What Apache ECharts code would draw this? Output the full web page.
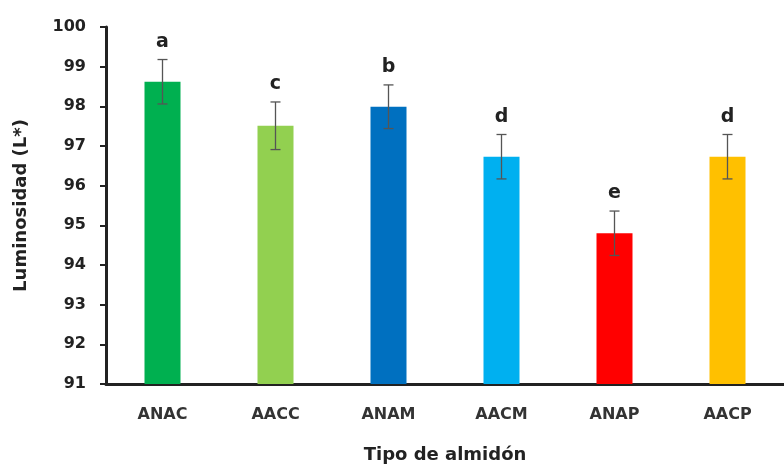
<!DOCTYPE html>
<html><head><meta charset="utf-8">
<script src="https://cdn.jsdelivr.net/npm/echarts@6/dist/echarts.min.js"></script>
<style>html,body{margin:0;padding:0;background:#fff}#c{width:784px;height:469px}</style>
</head><body><div id="c"></div>
<script>
const categories = ['ANAC','AACC','ANAM','AACM','ANAP','AACP'];
const values = [98.62, 97.51, 97.99, 96.73, 94.80, 96.73];
const errors = [0.56, 0.60, 0.55, 0.56, 0.56, 0.56];
const letters = ['a','c','b','d','e','d'];
const colors = ['#00B050','#92D050','#0070C0','#00B0F0','#FF0000','#FFC000'];
const yTicks = [91,92,93,94,95,96,97,98,99,100];

const chart = echarts.init(document.getElementById('c'));
const font = 'DejaVu Sans';
chart.setOption({
  animation:false,
  grid:{left:106, top:27, bottom:84, right:-3},
  xAxis:{type:'category', data:categories,
    axisLine:{lineStyle:{color:'#222', width:3}},
    axisTick:{inside:true, length:4, lineStyle:{color:'#222', width:2}},
    axisLabel:{color:'#333', fontFamily:font, fontWeight:'bold', fontSize:16, margin:23},
    name:'Tipo de almidón', nameLocation:'middle', nameGap:62,
    nameTextStyle:{color:'#222', fontFamily:font, fontWeight:'bold', fontSize:18}
  },
  yAxis:{type:'value', min:yTicks[0], max:yTicks[yTicks.length-1], interval:1,
    axisLine:{show:true, lineStyle:{color:'#222', width:3}},
    axisTick:{show:true, length:6, lineStyle:{color:'#222', width:2}},
    splitLine:{show:false},
    axisLabel:{color:'#222', fontFamily:font, fontWeight:'bold', fontSize:16, margin:20},
    name:'Luminosidad (L*)', nameLocation:'middle', nameGap:76,
    nameTextStyle:{color:'#222', fontFamily:font, fontWeight:'bold', fontSize:18}
  },
  series:[
    {type:'bar', barWidth:36,
     data: values.map((v,i)=>({value:v, itemStyle:{color:colors[i]}}))},
    {type:'custom',
     data: values.map((v,i)=>[i, v, errors[i], letters[i]]),
     renderItem:function(params, api){
       const x = api.value(0), v = api.value(1), e = api.value(2);
       const top = api.coord([x, v+e]);
       const bot = api.coord([x, v-e]);
       const cw = 5;
       const st = {stroke:'#555', lineWidth:1.3};
       return {type:'group', children:[
         {type:'line', shape:{x1:top[0], y1:top[1], x2:bot[0], y2:bot[1]}, style:st},
         {type:'line', shape:{x1:top[0]-cw, y1:top[1], x2:top[0]+cw, y2:top[1]}, style:st},
         {type:'line', shape:{x1:bot[0]-cw, y1:bot[1], x2:bot[0]+cw, y2:bot[1]}, style:st},
         {type:'text', x:top[0], y:top[1]-8, style:{text:letters[params.dataIndex], fill:'#222',
           font:'bold 19px '+font, align:'center', verticalAlign:'bottom'}}
       ]};
     }, z:5}
  ]
});
</script></body></html>
